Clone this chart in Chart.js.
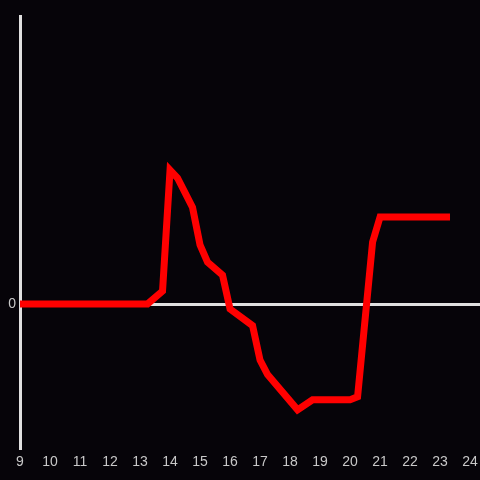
<!DOCTYPE html>
<html>
<head>
<meta charset="utf-8">
<script src="https://cdn.jsdelivr.net/npm/chart.js@4"></script>
<style>
  html, body { margin: 0; padding: 0; background: #060409; }
  #wrap { width: 480px; height: 480px; }
</style>
</head>
<body>
<div id="wrap"><canvas id="chart"></canvas></div>
<script>
// hours of the day (x) and readings (y)
var hours  = [9, 13.25, 13.75, 14, 14.25, 14.75, 15, 15.25, 15.75, 16, 16.75, 17, 17.25, 18.25, 18.75, 20, 20.25, 20.75, 21, 23.33];
var values = [0, 0, 0.9, 9.3, 8.75, 6.7, 4.1, 2.9, 2.0, -0.35, -1.5, -3.9, -4.9, -7.35, -6.65, -6.65, -6.45, 4.3, 6.05, 6.05];
var xTicks = [9, 10, 11, 12, 13, 14, 15, 16, 17, 18, 19, 20, 21, 22, 23, 24];
var yTicks = [0];

var points = hours.map(function (h, i) { return { x: h, y: values[i] }; });

var ctx = document.getElementById("chart").getContext("2d");

new Chart(ctx, {
    type: "line",
    data: {
        datasets: [{
            data: points,
            borderColor: "#ff0000",
            borderWidth: 7,
            pointRadius: 0,
            tension: 0,
            fill: false
        }]
    },
    options: {
        responsive: true,
        maintainAspectRatio: false,
        animation: false,
        layout: { padding: { top: 16, right: 0, left: 0, bottom: 0 } },
        plugins: {
            legend: { display: false },
            tooltip: { enabled: false }
        },
        scales: {
            x: {
                type: "linear",
                min: 9,
                max: 24.33,
                afterBuildTicks: function (axis) {
                    axis.ticks = xTicks.map(function (v) { return { value: v }; });
                },
                afterFit: function (axis) {
                    axis.height = 32;
                    axis.paddingLeft = 0;
                    axis.paddingRight = 0;
                },
                grid: { display: false, drawTicks: false },
                border: { display: false },
                ticks: {
                    padding: 6,
                    autoSkip: false,
                    maxRotation: 0,
                    font: { size: 14, family: "Liberation Sans" },
                    color: "#c8c8c8"
                }
            },
            y: {
                min: -10,
                max: 20,
                afterBuildTicks: function (axis) {
                    axis.ticks = yTicks.map(function (v) { return { value: v }; });
                },
                afterFit: function (axis) { axis.width = 20; },
                grid: {
                    color: "#e0e0e0",
                    lineWidth: 3,
                    drawTicks: false
                },
                border: { display: true, color: "#e0e0e0", width: 3 },
                ticks: {
                    padding: 4,
                    font: { size: 14, family: "Liberation Sans" },
                    color: "#c8c8c8"
                }
            }
        }
    }
});
</script>
</body>
</html>
